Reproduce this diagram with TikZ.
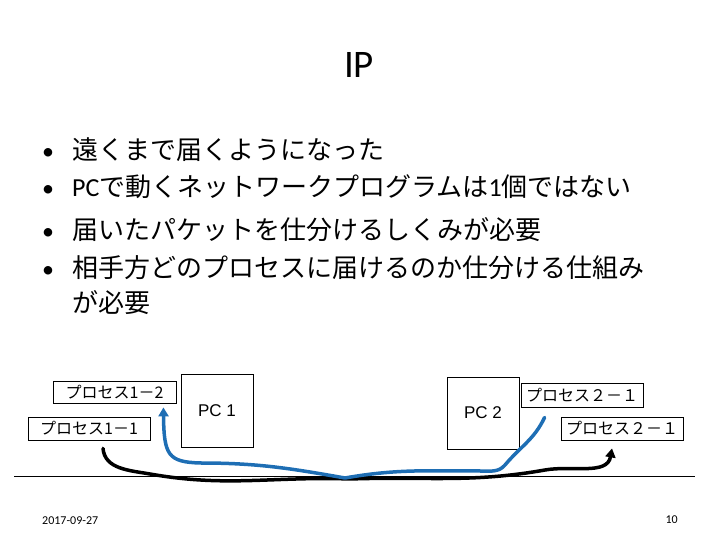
\documentclass[tikz,border=0pt]{standalone}
\usepackage{fontspec}
\setmainfont{Carlito}
\newfontfamily\jp{Noto Sans CJK JP}
\newfontfamily\arial{Liberation Sans}
\usetikzlibrary{arrows.meta}
\definecolor{flowblue}{RGB}{30,110,180}
\tikzset{
  procbox/.style={draw, line width=0.8pt, inner sep=0pt, minimum height=23pt, minimum width=122pt, font=\jp\fontsize{16}{16}\selectfont},
  pcbox/.style={draw, line width=0.8pt, inner sep=0pt, minimum width=72pt, minimum height=72pt, font=\arial\fontsize{17}{17}\selectfont},
  bullettext/.style={anchor=base west, inner sep=0pt, font=\jp\fontsize{26}{26}\selectfont},
  bulletdot/.style={anchor=base, inner sep=0pt, font=\fontsize{24}{24}\selectfont},
  flow/.style={line width=3.5pt, line cap=round, line join=round, -{Triangle[length=9pt,width=10pt]}},
}
\begin{document}
\begin{tikzpicture}[x=1pt,y=1pt]
\useasboundingbox (0,0) rectangle (720,540);
% title
\node[anchor=base, inner sep=0pt, font=\fontsize{39}{39}\selectfont] (title) at (359,462) {IP};
% bullets
\node[bulletdot] (d1) at (48,380.5) {•};
\node[bullettext] (t1) at (72,380.5) {遠くまで届くようになった};
\node[bulletdot] (d2) at (48,343.5) {•};
\node[bullettext] (t2) at (72,343.5) {{\fontspec{Carlito}PC}で動くネットワークプログラムは{\fontspec{Carlito}1}個ではない};
\node[bulletdot] (d3) at (48,300.5) {•};
\node[bullettext] (t3) at (72,300.5) {届いたパケットを仕分けるしくみが必要};
\node[bulletdot] (d4) at (48,262.5) {•};
\node[bullettext] (t4) at (72,262.5) {相手方どのプロセスに届けるのか仕分ける仕組み};
\node[bullettext] (t5) at (72,227.5) {が必要};
% boxes
\node[procbox, minimum width=123pt, minimum height=22pt] (p12) at (114.5,148) {プロセス1－2};
\node[procbox] (p11) at (89,111.5) {プロセス1－1};
\node[pcbox, minimum height=73pt] (pc1) at (217,129.5) {PC 1};
\node[pcbox] (pc2) at (483,127) {PC 2};
\node[procbox, minimum height=24pt] (p21a) at (582,145) {プロセス２－１};
\node[procbox] (p21b) at (622,111.5) {プロセス２－１};
% network line
\coordinate (la) at (14,64);
\coordinate (lb) at (695,64);
\draw[line width=0.8pt] (la) -- (lb);
% black flow
\coordinate (bs) at ([xshift=14pt,yshift=-8pt]p11.south);
\coordinate (be) at ([xshift=-10pt,yshift=-8pt]p21b.south);
\draw[flow, black] (bs) to[out=-85,in=170] (150,66) to[out=-10,in=178] (350,61)
  to[out=2,in=190] (545,70) to[out=10,in=-100] (be);
% blue flow
\coordinate (us) at ([xshift=24pt,yshift=-10pt]p21a.south west);
\coordinate (ue) at ([xshift=-13pt,yshift=-4pt]p12.south east);
\draw[flow, flowblue] (us) to[out=-115,in=50] (505,75) to[out=-130,in=0] (480,69)
  to[out=180,in=10] (345,62) to[out=170,in=0] (200,77)
  .. controls (168,78) and (164,85) .. (ue);
% footer
\node[anchor=base west, inner sep=0pt, font=\fontsize{12}{12}\selectfont] (date) at (42,15) {2017-09-27};
\node[anchor=base east, inner sep=0pt, font=\fontsize{12}{12}\selectfont] (page) at (678,16) {10};
\end{tikzpicture}
\end{document}
